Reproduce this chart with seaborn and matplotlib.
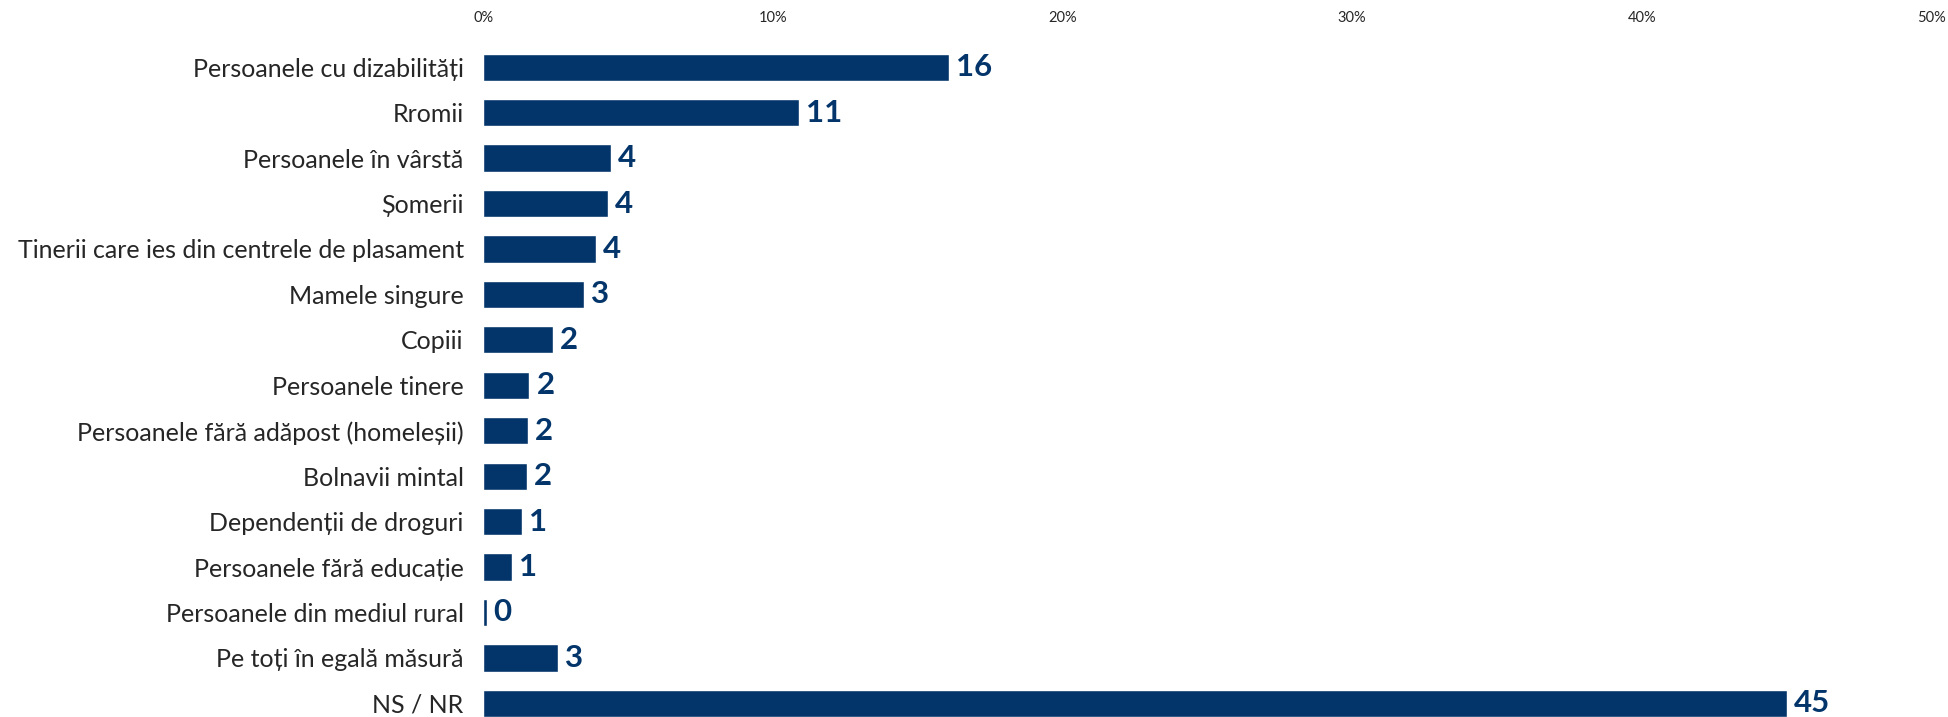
import matplotlib
matplotlib.use("Agg")
import matplotlib.pyplot as plt
import seaborn as sns
import pandas as pd
from matplotlib.ticker import PercentFormatter

# data
categories = [
    "Persoanele cu dizabilități",
    "Rromii",
    "Persoanele în vârstă",
    "Șomerii",
    "Tinerii care ies din centrele de plasament",
    "Mamele singure",
    "Copiii",
    "Persoanele tinere",
    "Persoanele fără adăpost (homeleșii)",
    "Bolnavii mintal",
    "Dependenții de droguri",
    "Persoanele fără educație",
    "Persoanele din mediul rural",
    "Pe toți în egală măsură",
    "NS / NR",
]
values = [16.1, 10.9, 4.4, 4.3, 3.9, 3.5, 2.4, 1.6, 1.55, 1.5, 1.35, 1.0, 0.12, 2.6, 45.0]
value_labels = ["16", "11", "4", "4", "4", "3", "2", "2", "2", "2", "1", "1", "0", "3", "45"]
x_ticks = [0, 10, 20, 30, 40, 50]

bar_color = "#03356A"

df = pd.DataFrame({"category": categories, "value": values})

sns.set_style("white")
plt.rcParams["font.family"] = ["Lato", "DejaVu Sans"]

fig = plt.figure(figsize=(19.48, 7.17), dpi=100)
ax = fig.add_axes([0.248, 0.0, 0.7435, 0.938])

sns.barplot(data=df, x="value", y="category", orient="h", color=bar_color,
            width=0.6, saturation=1, ax=ax)

ax.set_xlim(0, 50)
ax.set_ylim(14.3, -0.5)
ax.set_xticks(x_ticks)
ax.xaxis.set_major_formatter(PercentFormatter(decimals=0))
ax.xaxis.tick_top()
ax.tick_params(axis="x", length=0, pad=14, labelsize=10.5)
ax.tick_params(axis="y", length=0, pad=14, labelsize=18)
ax.set_xlabel("")
ax.set_ylabel("")
for s in ax.spines.values():
    s.set_visible(False)

for i, (v, lab) in enumerate(zip(values, value_labels)):
    ax.annotate(lab, xy=(v, i), xytext=(5, 0), textcoords="offset points",
                va="center", ha="left", fontsize=22.5, fontweight="bold",
                color=bar_color)

fig.savefig("out.png", dpi=100)
